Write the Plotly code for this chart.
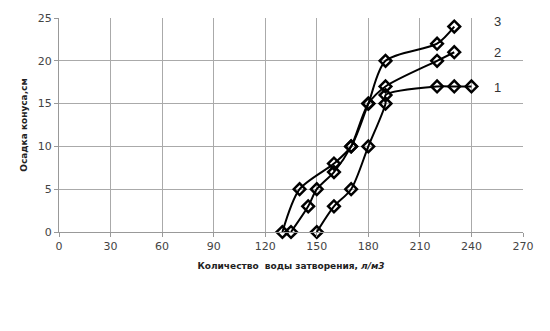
import plotly.graph_objects as go

x1 = [150, 160, 170, 180, 190, 190, 220, 230, 240]
y1 = [0, 3, 5, 10, 15, 16, 17, 17, 17]
x2 = [135, 145, 150, 160, 170, 180, 190, 220, 230]
y2 = [0, 3, 5, 7, 10, 15, 17, 20, 21]
x3 = [130, 140, 160, 170, 180, 190, 220, 230]
y3 = [0, 5, 8, 10, 15, 20, 22, 24]

labels = ["1", "2", "3"]
label_y = [16.9, 21.0, 24.6]

x_ticks = [0, 30, 60, 90, 120, 150, 180, 210, 240, 270]
y_ticks = [0, 5, 10, 15, 20, 25]

fig = go.Figure()
for xs, ys in [(x1, y1), (x2, y2), (x3, y3)]:
    fig.add_trace(go.Scatter(
        x=xs, y=ys, mode="lines+markers",
        line=dict(color="black", width=2, shape="spline", smoothing=0.8),
        marker=dict(symbol="diamond-open", size=9, color="black",
                    line=dict(width=2.5, color="black")),
        showlegend=False, cliponaxis=False))

for t, yy in zip(labels, label_y):
    fig.add_annotation(x=255, y=yy, text=t, showarrow=False, xref="x", yref="y",
                       font=dict(family="Liberation Sans", size=13, color="#333"))

fig.update_layout(
    width=550, height=331,
    margin=dict(l=59, r=27, t=12, b=99),
    plot_bgcolor="white", paper_bgcolor="white",
    font=dict(family="DejaVu Sans", size=11, color="#444"),
)
fig.update_xaxes(range=[0, 270], tickvals=x_ticks, showgrid=True, gridcolor="#aaa",
                 gridwidth=1, showline=True, linecolor="#999", linewidth=1,
                 ticks="outside", ticklen=4, tickcolor="#999", zeroline=False,
                 title=dict(text="<b>Количество  воды затворения, <i>л/м3</i></b>",
                            font=dict(size=9, color="#222"), standoff=10))
fig.update_yaxes(range=[0, 25], tickvals=y_ticks, showgrid=True, gridcolor="#aaa",
                 gridwidth=1, showline=True, linecolor="#999", linewidth=1,
                 ticks="outside", ticklen=4, tickcolor="#999", zeroline=False,
                 title=dict(text="<b>Осадка конуса,см</b>",
                            font=dict(size=9, color="#222"), standoff=8))

fig.write_html("out.html")
